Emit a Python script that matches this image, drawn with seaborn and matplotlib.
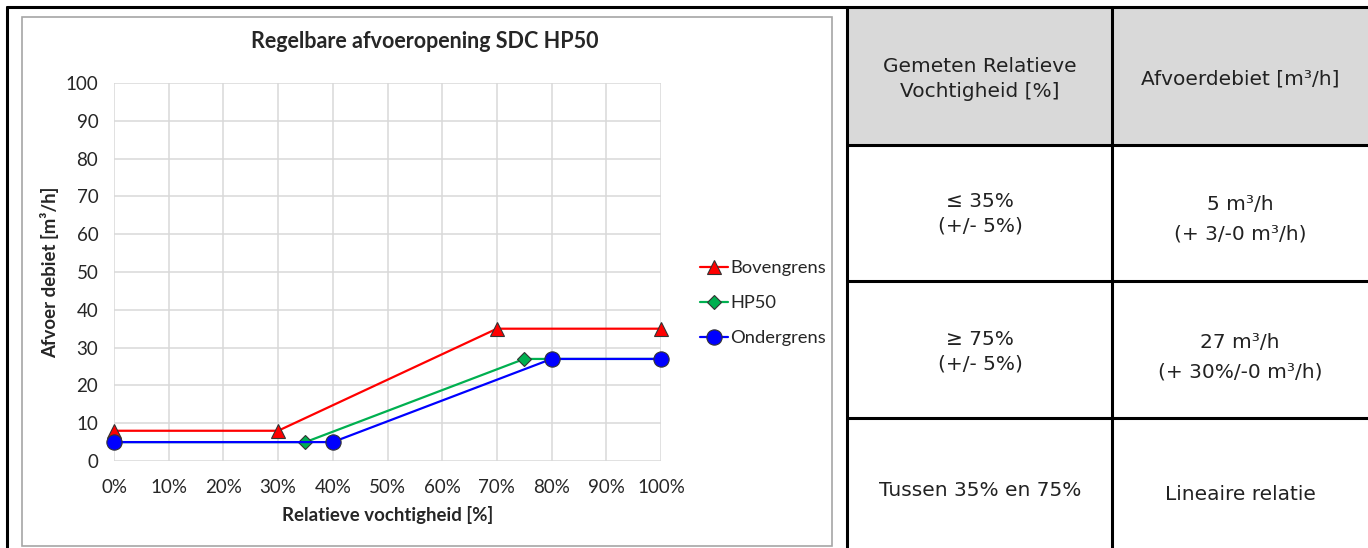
import pandas as pd
import numpy as np
import matplotlib
matplotlib.use('Agg')
import matplotlib.pyplot as plt
import seaborn as sns
from matplotlib.patches import Rectangle
from matplotlib.lines import Line2D

# data
series_names = ['Bovengrens', 'HP50', 'Ondergrens']
rv_boven = [0, 30, 70, 100]
debiet_boven = [8, 8, 35, 35]
rv_hp50 = [0, 35, 75, 100]
debiet_hp50 = [5, 5, 27, 27]
rv_onder = [0, 40, 80, 100]
debiet_onder = [5, 5, 27, 27]

x_ticks = [0, 10, 20, 30, 40, 50, 60, 70, 80, 90, 100]
y_ticks = [0, 10, 20, 30, 40, 50, 60, 70, 80, 90, 100]

chart_title = 'Regelbare afvoeropening SDC HP50'
x_label = 'Relatieve vochtigheid [%]'
y_label = 'Afvoer debiet [m³/h]'

# tabel rechts
table_header = ['Gemeten Relatieve\nVochtigheid [%]', 'Afvoerdebiet [m³/h]']
table_col1 = ['≤ 35%\n(+/- 5%)', '≥ 75%\n(+/- 5%)', 'Tussen 35% en 75%']
table_col2 = ['5 m³/h\n(+ 3/-0 m³/h)', '27 m³/h\n(+ 30%/-0 m³/h)', 'Lineaire relatie']

df = pd.concat([
    pd.DataFrame({'rv': rv_boven, 'debiet': debiet_boven, 'serie': 'Bovengrens'}),
    pd.DataFrame({'rv': rv_hp50, 'debiet': debiet_hp50, 'serie': 'HP50'}),
    pd.DataFrame({'rv': rv_onder, 'debiet': debiet_onder, 'serie': 'Ondergrens'}),
], ignore_index=True)

sns.set_style('white')
plt.rcParams['font.family'] = ['Lato', 'DejaVu Sans']

W, H = 1368, 548
fig = plt.figure(figsize=(13.68, 5.48), dpi=100)

def fx(px):
    return px / W

def fy(py):
    return 1 - py / H

# kaders
fig.add_artist(Rectangle((fx(22), fy(546)), fx(832) - fx(22), fy(17) - fy(546),
                         transform=fig.transFigure, fill=False, ec='#a6a6a6', lw=1.2))
fig.add_artist(Rectangle((fx(847), fy(145)), 1 - fx(847), fy(8) - fy(145),
                         transform=fig.transFigure, fc='#d9d9d9', ec='none', zorder=0))
fig.add_artist(Line2D([fx(7), 1], [fy(7), fy(7)], transform=fig.transFigure, color='black', lw=2.2))
fig.add_artist(Line2D([fx(7), fx(7)], [fy(7), 0], transform=fig.transFigure, color='black', lw=2.2))
fig.add_artist(Line2D([fx(847), fx(847)], [fy(7), 0], transform=fig.transFigure, color='black', lw=2.2))
fig.add_artist(Line2D([fx(1112), fx(1112)], [fy(7), 0], transform=fig.transFigure, color='black', lw=2.2))
for yy in [145, 281, 418]:
    fig.add_artist(Line2D([fx(847), 1], [fy(yy), fy(yy)], transform=fig.transFigure, color='black', lw=2.2))

# grafiek
ax = fig.add_axes([fx(114), fy(461), fx(661) - fx(114), fy(83) - fy(461)])
sns.lineplot(data=df, x='rv', y='debiet', hue='serie', style='serie', hue_order=series_names,
             style_order=series_names, palette=['#ff0000', '#00b050', '#0000ff'],
             markers={'Bovengrens': '^', 'HP50': 'D', 'Ondergrens': 'o'}, dashes=False,
             lw=1.6, markeredgecolor='#333333', markeredgewidth=0.8, legend=False, ax=ax,
             clip_on=False)
sizes = [10, 7, 11]
for line, s in zip(ax.lines, sizes):
    line.set_markersize(s)
    line.set_clip_on(False)
    line.set_zorder(3)

ax.set_xlim(0, 100)
ax.set_ylim(0, 100)
ax.set_xticks(x_ticks)
ax.set_xticklabels([f'{t}%' for t in x_ticks])
ax.set_yticks(y_ticks)
ax.grid(True, color='#d9d9d9', lw=1.1)
for sp in ax.spines.values():
    sp.set_visible(False)
ax.tick_params(axis='both', length=4.3, width=1.1, color='#d9d9d9', labelsize=13.5, labelcolor='#262626')
ax.tick_params(axis='x', pad=9)
ax.tick_params(axis='y', pad=7)
ax.set_xlabel('')
ax.set_ylabel('')

fig.text(fx(425), fy(42), chart_title, ha='center', va='center', fontsize=15.5, fontweight='bold')
fig.text(fx(388), fy(515), x_label, ha='center', va='center', fontsize=13.4, fontweight='bold')
fig.text(fx(50), fy(272), y_label, ha='center', va='center', fontsize=13.4, fontweight='bold', rotation=90)

leg = fig.legend(ax.lines, series_names, loc='upper left', bbox_to_anchor=(fx(700), fy(260)),
                 frameon=False, fontsize=13.2, handlelength=1.5, handletextpad=0.15,
                 labelspacing=1.05, borderaxespad=0, borderpad=0)

# tabel tekst
col_x = [980, 1240]
row_y = [79, 214, 352, 490]
tfont = ['DejaVu Sans']
fig.text(fx(col_x[0]), fy(row_y[0]), table_header[0], ha='center', va='center', fontsize=14.5,
         family=tfont, color='#222222', linespacing=1.4)
fig.text(fx(col_x[1]), fy(row_y[0]), table_header[1], ha='center', va='center', fontsize=14.5,
         family=tfont, color='#222222')
for i in range(3):
    fig.text(fx(col_x[0]), fy(row_y[i + 1]), table_col1[i], ha='center', va='center', fontsize=14.5,
             family=tfont, color='#222222', linespacing=1.4)
    fig.text(fx(col_x[1]), fy(row_y[i + 1] + 5), table_col2[i], ha='center', va='center', fontsize=14.5,
             family=tfont, color='#222222', linespacing=1.7)

fig.savefig('out.png', dpi=100)
